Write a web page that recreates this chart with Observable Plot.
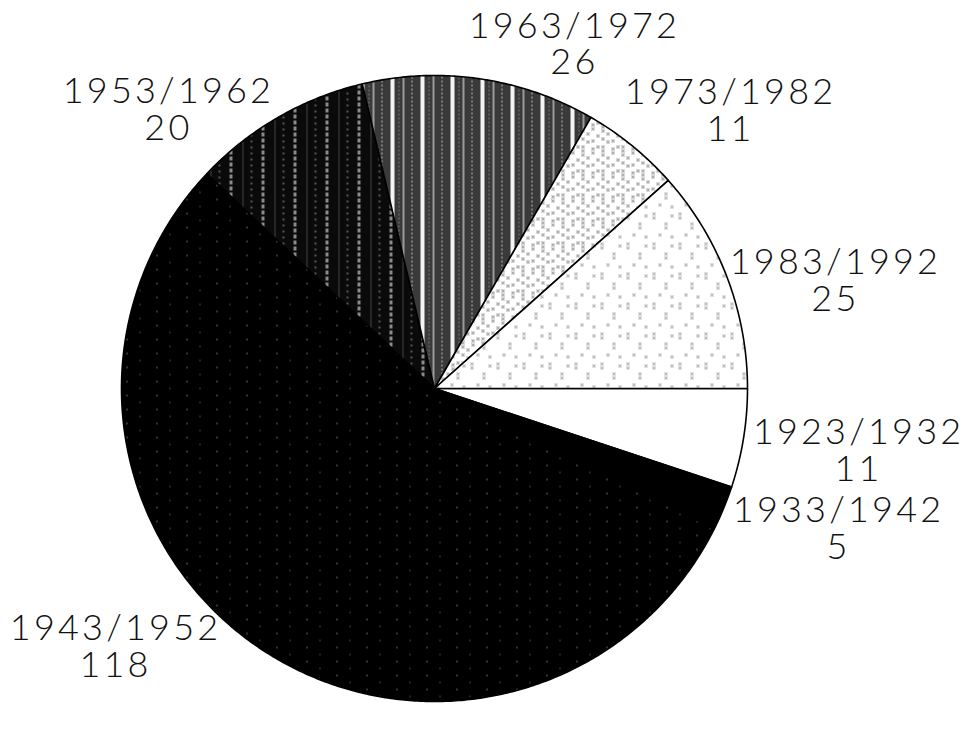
<!DOCTYPE html>
<html><head><meta charset="utf-8">
<script src="https://cdn.jsdelivr.net/npm/d3@7"></script>
<script src="https://cdn.jsdelivr.net/npm/@observablehq/plot@0.6"></script>
<style>body{margin:0;background:#fff}</style>
</head><body><div id="chart"></div>
<script>
// ---- data (clockwise from 3 o'clock) ----
const periods = ["1923/1932", "1933/1942", "1943/1952", "1953/1962", "1963/1972", "1973/1982", "1983/1992"];
const counts  = [11, 5, 118, 20, 26, 11, 25];

// ---- styles ----
const sliceFills = {
  "1923/1932": "white",
  "1933/1942": "black",
  "1943/1952": "url(#p43)",
  "1953/1962": "url(#p53)",
  "1963/1972": "url(#p63)",
  "1973/1982": "url(#p73)",
  "1983/1992": "url(#p83)"
};

// ---- label layout (in pie-radius units, centre = 0,0) ----
const labelAt = {
  "1923/1932": [1.355, -0.198],
  "1933/1942": [1.291, -0.447],
  "1943/1952": [-1.019, -0.824],
  "1953/1962": [-0.850, 0.891],
  "1963/1972": [0.447, 1.100],
  "1973/1982": [0.946, 0.888],
  "1983/1992": [1.281, 0.345]
};

const W = 970, H = 736, CX = 434, CY = 388, R = 313;

const slices = periods.map((p, i) => ({period: p, count: counts[i]}));
const arcs = d3.pie().sort(null).value(d => d.count)
  .startAngle(Math.PI / 2).endAngle(Math.PI / 2 + 2 * Math.PI)(slices);

const outline = [];
arcs.forEach(a => {
  const period = a.data.period, fill = sliceFills[period];
  outline.push({period, fill, x: 0, y: 0});
  const n = Math.max(2, Math.ceil((a.endAngle - a.startAngle) / (Math.PI / 360)));
  for (let k = 0; k <= n; k++) {
    const t = a.startAngle + (a.endAngle - a.startAngle) * k / n;
    outline.push({period, fill, x: Math.sin(t), y: Math.cos(t)});
  }
});

const labels = slices.map(d => ({
  x: labelAt[d.period][0], y: labelAt[d.period][1],
  text: d.period + "\n" + d.count
}));

const chart = Plot.plot({
  width: W, height: H, margin: 0,
  x: {domain: [-CX / R, (W - CX) / R], range: [0, W], axis: null},
  y: {domain: [-(H - CY) / R, CY / R], range: [H, 0], axis: null},
  color: {type: "identity"},
  style: {background: "white"},
  marks: [
    Plot.line(outline, {x: "x", y: "y", z: "period", fill: "fill", stroke: "black",
      strokeWidth: 1.6, curve: "linear-closed"}),
    Plot.text(labels, {x: "x", y: "y", text: "text", fontSize: 36, lineHeight: 1.02,
      fill: "#111", fontFamily: "Lato, 'Open Sans', Roboto, sans-serif", fontWeight: 300})
  ]
});
d3.select(chart).selectAll("text").style("letter-spacing", "3.2px");

// ---- texture patterns ----
const defs = d3.select(chart).insert("defs", ":first-child");
function pat(id, w, h) {
  return defs.append("pattern").attr("id", id).attr("patternUnits", "userSpaceOnUse")
    .attr("width", w).attr("height", h);
}
// 1943/1952 : black with faint dotted vertical streaks
let p = pat("p43", 30, 14);
p.append("rect").attr("width", 30).attr("height", 14).attr("fill", "#000");
p.append("rect").attr("x", 6).attr("y", 2).attr("width", 1).attr("height", 2).attr("fill", "#666");
p.append("rect").attr("x", 19).attr("y", 9).attr("width", 1).attr("height", 2).attr("fill", "#444");
// 1953/1962 : near black with grainy light streaks
p = pat("p53", 32, 6);
p.append("rect").attr("width", 32).attr("height", 6).attr("fill", "#0a0a0a");
p.append("rect").attr("x", 5).attr("width", 3).attr("height", 4).attr("fill", "#8a8a8a");
p.append("rect").attr("x", 18).attr("width", 1).attr("height", 6).attr("fill", "#444");
p.append("rect").attr("x", 26).attr("y", 2).attr("width", 2).attr("height", 2).attr("fill", "#555");
// 1963/1972 : medium-dark grey stripes with white gaps
p = pat("p63", 30, 4);
p.append("rect").attr("width", 30).attr("height", 4).attr("fill", "#3a3a3a");
p.append("rect").attr("x", 0).attr("width", 4).attr("height", 4).attr("fill", "#f4f4f4");
p.append("rect").attr("x", 12).attr("width", 2).attr("height", 4).attr("fill", "#9a9a9a");
p.append("rect").attr("x", 21).attr("width", 1).attr("height", 2).attr("fill", "#bbb");
p.append("rect").attr("x", 8).attr("y", 1).attr("width", 1).attr("height", 2).attr("fill", "#777");
// x-mark helper
function xmark(g, x, y, s, c) {
  g.append("path").attr("d", `M${x},${y}l${s},${s}M${x + s},${y}l${-s},${s}`)
    .attr("stroke", c).attr("stroke-width", 0.9).attr("fill", "none");
}
// 1973/1982 : denser x stipple in columns
p = pat("p73", 20, 24);
p.append("rect").attr("width", 20).attr("height", 24).attr("fill", "white");
[[1,1],[1,5],[11,3],[11,7],[6,12],[16,14],[1,17],[11,19],[6,20],[16,1],[1,9]].forEach(([x, y]) => xmark(p, x, y, 3, "#555"));
// 1983/1992 : sparser x stipple
p = pat("p83", 26, 30);
p.append("rect").attr("width", 26).attr("height", 30).attr("fill", "white");
[[2,2],[2,6],[14,12],[14,16],[8,23],[20,4],[20,25]].forEach(([x, y]) => xmark(p, x, y, 3, "#777"));

document.getElementById("chart").appendChild(chart);
</script>
</body></html>
